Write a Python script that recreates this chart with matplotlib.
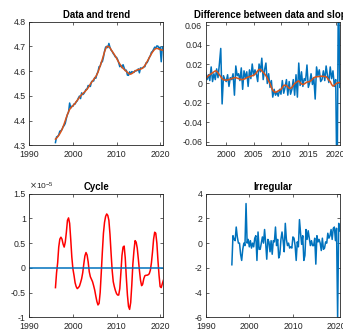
import numpy as np
import matplotlib
matplotlib.use('Agg')
from matplotlib import pyplot as plt
from matplotlib.ticker import FuncFormatter, MultipleLocator

plt.rcParams['font.family'] = ['Liberation Sans', 'DejaVu Sans']

# quarterly series, first quarter 1996 .. last quarter 2020
t_start = 1996.0

# log level of the data
data = [4.311, 4.334, 4.336, 4.342,
        4.357, 4.359, 4.364, 4.375,
        4.380, 4.389, 4.409, 4.425,
        4.434, 4.471, 4.451, 4.458,
        4.458, 4.467, 4.467, 4.476,
        4.480, 4.491, 4.499, 4.489,
        4.512, 4.505, 4.509, 4.517,
        4.526, 4.527, 4.542, 4.540,
        4.538, 4.556, 4.561, 4.560,
        4.574, 4.571, 4.588, 4.597,
        4.618, 4.619, 4.636, 4.638,
        4.656, 4.680, 4.697, 4.700,
        4.695, 4.712, 4.696, 4.685,
        4.680, 4.671, 4.665, 4.657,
        4.656, 4.647, 4.634, 4.618,
        4.623, 4.614, 4.626, 4.613,
        4.602, 4.604, 4.584, 4.583,
        4.597, 4.590, 4.598, 4.596,
        4.595, 4.602, 4.601, 4.603,
        4.609, 4.593, 4.613, 4.611,
        4.614, 4.617, 4.618, 4.633,
        4.634, 4.643, 4.655, 4.662,
        4.676, 4.680, 4.688, 4.697,
        4.693, 4.702, 4.701, 4.691,
        4.697, 4.638, 4.698, 4.693]

# trend level
trend = [4.325, 4.329, 4.334, 4.340,
         4.347, 4.355, 4.364, 4.375,
         4.387, 4.400, 4.413, 4.425,
         4.436, 4.445, 4.451, 4.456,
         4.460, 4.465, 4.470, 4.476,
         4.482, 4.488, 4.494, 4.500,
         4.505, 4.509, 4.513, 4.517,
         4.522, 4.527, 4.533, 4.540,
         4.548, 4.554, 4.560, 4.566,
         4.572, 4.578, 4.586, 4.596,
         4.608, 4.621, 4.634, 4.648,
         4.663, 4.678, 4.690, 4.698,
         4.701, 4.699, 4.694, 4.687,
         4.680, 4.674, 4.667, 4.660,
         4.652, 4.644, 4.636, 4.629,
         4.622, 4.616, 4.611, 4.607,
         4.603, 4.599, 4.595, 4.591,
         4.588, 4.588, 4.590, 4.593,
         4.597, 4.600, 4.603, 4.605,
         4.606, 4.607, 4.608, 4.610,
         4.612, 4.617, 4.623, 4.630,
         4.638, 4.646, 4.654, 4.662,
         4.670, 4.677, 4.683, 4.688,
         4.691, 4.692, 4.691, 4.689,
         4.687, 4.686, 4.685, 4.685]

# quarter-on-quarter difference of the data (from the 2nd quarter)
data_diff = [0.011, 0.004, 0.009,
             0.003, 0.017, 0.002, 0.010,
             0.004, 0.015, 0.006, 0.020,
             0.036, -0.021, 0.008, 0.004,
             0.002, 0.009, -0.003, 0.006,
             0.004, 0.010, -0.012, 0.018,
             0.008, 0.010, 0.003, 0.016,
             -0.006, 0.013, 0.006, 0.012,
             -0.003, 0.014, 0.005, 0.020,
             0.008, 0.014, 0.010, 0.002,
             0.020, 0.012, 0.026, 0.004,
             0.014, 0.021, 0.000, 0.010,
             -0.004, 0.003, -0.014, -0.006,
             -0.012, -0.009, -0.013, -0.006,
             -0.011, 0.003, -0.010, -0.004,
             0.004, -0.012, 0.002, -0.011,
             -0.006, 0.004, -0.012, 0.009,
             -0.014, 0.021, -0.002, 0.012,
             -0.003, 0.005, 0.003, 0.019,
             -0.004, 0.001, 0.010, -0.001,
             0.006, -0.016, 0.017, 0.008,
             0.014, 0.002, 0.004, 0.013,
             0.003, 0.018, 0.008, 0.001,
             0.017, 0.005, 0.013, -0.003,
             0.004, -0.120, 0.110, -0.004]

# slope of the trend
slope = [0.005, 0.0065, 0.008,
         0.009, 0.010, 0.011, 0.012,
         0.013, 0.0125, 0.011, 0.009,
         0.007, 0.005, 0.0038, 0.0035,
         0.0035, 0.0035, 0.004, 0.0045,
         0.005, 0.0055, 0.006, 0.006,
         0.0055, 0.005, 0.0045, 0.004,
         0.004, 0.0045, 0.005, 0.006,
         0.0065, 0.007, 0.0075, 0.008,
         0.0085, 0.0095, 0.011, 0.013,
         0.0145, 0.0145, 0.013, 0.0115,
         0.010, 0.008, 0.0055, 0.0025,
         0.000, -0.004, -0.007, -0.0085,
         -0.009, -0.0085, -0.0075, -0.007,
         -0.006, -0.004, -0.002, -0.0017,
         -0.002, -0.0035, -0.005, -0.005,
         -0.004, -0.002, 0.000, 0.001,
         0.002, 0.0027, 0.001, -0.0005,
         -0.001, -0.0005, 0.0005, 0.0015,
         0.0017, 0.002, 0.003, 0.0045,
         0.006, 0.0065, 0.007, 0.007,
         0.0072, 0.0075, 0.0075, 0.0073,
         0.0072, 0.007, 0.0055, 0.0035,
         0.002, -0.001, -0.0027, -0.002,
         -0.0005, 0.0005, 0.001, 0.001]

# cycle, in units of 1e-5
cycle = [-0.40, -0.10, 0.10, 0.42,
         0.58, 0.62, 0.58, 0.48,
         0.42, 0.52, 0.72, 0.96,
         1.01, 0.90, 0.58, 0.22,
         -0.02, -0.15, -0.30, -0.38,
         -0.42, -0.40, -0.37, -0.30,
         -0.22, -0.10, 0.08, 0.24,
         0.31, 0.26, 0.12, -0.08,
         -0.18, -0.23, -0.28, -0.36,
         -0.45, -0.57, -0.68, -0.75,
         -0.72, -0.50, -0.10, 0.32,
         0.70, 0.92, 1.04, 1.09,
         1.06, 0.96, 0.68, 0.30,
         -0.05, -0.28, -0.38, -0.46,
         -0.52, -0.55, -0.55, -0.42,
         -0.10, 0.25, 0.42, 0.44,
         0.20, -0.20, -0.55, -0.78,
         -0.84, -0.70, -0.35, 0.08,
         0.35, 0.55, 0.52, 0.40,
         0.18, -0.05, -0.25, -0.36,
         -0.33, -0.22, -0.16, -0.15,
         -0.15, -0.14, -0.12, -0.05,
         0.10, 0.32, 0.58, 0.72,
         0.70, 0.50, 0.15, -0.15,
         -0.38, -0.40, -0.32, -0.25]

irregular = [-1.75, 0.6, 0.3, 0.2,
             1.3, 0.5, 0.0, 0.0,
             -0.9, -1.4, -0.5, 0.0,
             -0.2, 3.2, 0.0, 0.3,
             -0.3, 0.2, -0.4, 0.0,
             -0.3, 0.4, 0.6, -1.4,
             0.9, -0.5, -0.5, 0.0,
             0.5, 0.0, 1.1, 0.0,
             -1.3, 0.3, 0.1, -0.7,
             0.2, -0.9, 0.2, 0.1,
             1.3, -0.2, 0.3, -1.2,
             -0.9, 0.3, 0.9, 0.2,
             -0.7, 1.6, 0.3, -0.2,
             0.0, -0.4, -0.3, -0.4,
             0.5, 0.4, -0.2, -1.4,
             0.1, -0.3, 1.9, 0.8,
             -0.1, 0.6, -1.4, -1.0,
             1.1, 0.3, 1.0, 0.4,
             -0.2, 0.2, -0.2, -0.2,
             0.4, -1.7, 0.6, 0.1,
             0.3, 0.0, -0.6, 0.4,
             -0.5, -0.4, 0.1, 0.0,
             0.8, 0.4, 0.6, 1.1,
             0.3, 1.2, 1.3, 0.2,
             1.2, -6.0, 1.6, 1.0]

t = t_start + np.arange(len(data)) / 4.0

blue = '#0072BD'
orange = '#D95319'
axcol = '#262626'


def fmt(v, pos):
    if abs(v) < 1e-12:
        return '0'
    return '%g' % round(v, 6)


def style(ax, title):
    ax.set_title(title, fontsize=6.9, fontweight='bold', color='black', pad=3)
    ax.tick_params(direction='in', top=True, right=True, length=2, width=0.5,
                   labelsize=6.3, colors=axcol, pad=2.5)
    ax.tick_params(axis='x', pad=3.5)
    for s in ax.spines.values():
        s.set_linewidth(0.6)
        s.set_color(axcol)
    ax.yaxis.set_major_formatter(FuncFormatter(fmt))
    ax.xaxis.set_major_formatter(FuncFormatter(fmt))


fig = plt.figure(figsize=(3.43, 3.31), dpi=100)

w, h = 0.391, 0.3735
ax1 = fig.add_axes([0.0854, 0.561, w, h])
ax2 = fig.add_axes([0.5997, 0.561, w, h])
ax3 = fig.add_axes([0.0854, 0.0414, w, h])
ax4 = fig.add_axes([0.5997, 0.0414, w, h])

# Data and trend
ax1.plot(t, data, color=blue, lw=1.1)
ax1.plot(t, trend, color=orange, lw=1.1)
ax1.set_xlim(1990, t[-1])
ax1.set_ylim(4.3, 4.8)
ax1.xaxis.set_major_locator(MultipleLocator(10))
ax1.yaxis.set_major_locator(MultipleLocator(0.1))
style(ax1, 'Data and trend')

# Difference between data and slope
ax2.plot(t[1:], data_diff, color=blue, lw=1.1)
ax2.plot(t[1:], slope, color=orange, lw=1.1)
ax2.set_xlim(t[1], t[-1])
ax2.set_ylim(-0.0635, 0.0635)
ax2.xaxis.set_major_locator(MultipleLocator(5))
ax2.yaxis.set_major_locator(MultipleLocator(0.02))
style(ax2, 'Difference between data and slope')

# Cycle
ax3.plot(t, cycle, color='red', lw=1.1)
ax3.axhline(0, color=blue, lw=1.1)
ax3.set_xlim(1990, t[-1])
ax3.set_ylim(-1, 1.5)
ax3.xaxis.set_major_locator(MultipleLocator(10))
ax3.yaxis.set_major_locator(MultipleLocator(0.5))
style(ax3, 'Cycle')
ax3.text(0.0, 1.012, r'$\times\mathregular{10^{-5}}$', transform=ax3.transAxes,
         fontsize=6.0, color=axcol, ha='left', va='bottom')

# Irregular
ax4.plot(t, irregular, color=blue, lw=1.1)
ax4.set_xlim(1990, t[-1])
ax4.set_ylim(-6, 4)
ax4.xaxis.set_major_locator(MultipleLocator(10))
ax4.yaxis.set_major_locator(MultipleLocator(2))
style(ax4, 'Irregular')

fig.savefig('out.png', dpi=100)
